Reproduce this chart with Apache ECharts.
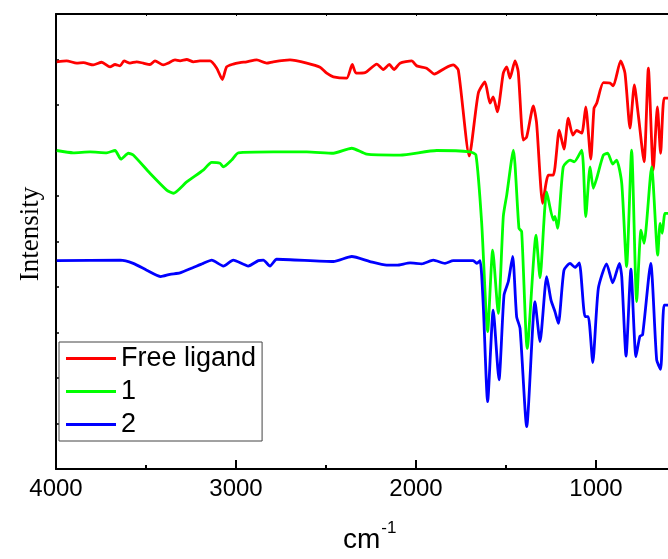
<!DOCTYPE html>
<html>
<head>
<meta charset="utf-8">
<script src="https://cdn.jsdelivr.net/npm/echarts@6/dist/echarts.min.js"></script>
<style>html,body{margin:0;padding:0;background:#fff;}#c{width:668px;height:559px;}</style>
</head>
<body>
<div id="c"></div>
<script>
// Wavenumbers (cm-1) and intensities (arbitrary units, 0-100)
var seriesNames = ['Free ligand', '1', '2'];
var xTickLabels = [4000, 3000, 2000, 1000];
var xMinorTicks = [3500, 2500, 1500];
var xTopTicks = [3500, 3000, 2500, 2000, 1500, 1000];

var ligandX = [3996,3941,3885,3848,3793,3746,3700,3672,3644,3622,3589,3552,3515,3478,3450,3404,3376,3339,3311,3274,3237,3200,3144,3107,3076,3052,3015,2978,2941,2885,2830,2793,2700,2607,2533,2496,2459,2385,2354,2333,2283,2218,2182,2148,2122,2089,2024,1996,1941,1898,1839,1793,1765,1704,1654,1617,1589,1571,1548,1515,1496,1478,1450,1432,1404,1385,1348,1330,1296,1265,1237,1204,1178,1154,1129,1107,1079,1057,1029,1011,996,959,922,904,863,839,811,787,765,733,709,682,659,641,622,600];
var ligandY = [89.5,89.7,89.2,89.3,88.8,89.4,88.4,88.9,88.6,89.7,89.2,89.5,89.2,88.9,89.7,88.8,89.2,89.9,89.7,90.0,89.5,89.7,89.7,88.1,85.6,88.4,89.0,89.3,89.5,89.9,89.2,89.5,89.9,89.2,88.3,87.0,86.2,85.9,88.9,87.0,87.1,89.0,87.8,88.9,87.8,89.2,89.7,88.6,88.1,86.8,88.1,88.8,87.7,68.8,82.6,85.1,80.4,81.8,78.5,87.0,88.4,85.9,89.7,87.3,72.3,73.0,79.8,76.0,58.4,64.6,64.6,74.5,70.3,77.1,73.4,74.4,73.8,79.6,68.1,79.3,80.4,84.9,84.8,84.2,89.7,87.0,74.9,84.4,77.8,67.5,88.1,65.7,79.6,69.4,81.5,81.5];

var complex1X = [3996,3904,3811,3719,3672,3639,3598,3571,3478,3385,3348,3274,3182,3135,3089,3070,3024,2987,2793,2607,2459,2357,2274,2089,1885,1700,1667,1635,1602,1574,1543,1515,1496,1459,1428,1413,1382,1333,1311,1274,1237,1228,1213,1182,1144,1121,1079,1057,1033,1015,996,959,935,907,885,857,830,802,774,750,733,691,657,644,632,617,600];
var complex1Y = [70.0,69.5,69.7,69.5,70.0,68.1,69.4,69.0,65.0,61.3,60.6,63.1,65.7,67.4,67.2,66.4,67.9,69.5,69.7,69.7,69.4,70.5,69.2,69.0,70.0,69.7,69.0,54.0,30.2,48.1,34.2,55.5,60.2,70.1,52.9,52.2,26.5,51.4,42.0,60.9,54.7,55.5,52.9,66.4,67.9,67.5,70.1,55.5,66.4,61.7,63.9,69.0,69.4,67.0,67.9,62.8,44.5,70.1,36.8,52.5,49.6,66.4,47.0,54.0,51.8,56.2,56.2];

var complex2X = [3996,3644,3571,3496,3418,3367,3311,3237,3182,3135,3070,3015,2932,2876,2848,2811,2774,2459,2357,2256,2163,2107,2033,1968,1904,1839,1793,1682,1663,1644,1626,1602,1571,1539,1511,1487,1463,1441,1422,1385,1339,1311,1274,1250,1228,1209,1178,1144,1117,1093,1061,1043,1018,987,941,907,870,857,833,806,778,756,741,696,663,641,622,600];
var complex2Y = [45.8,45.9,45.2,43.7,42.3,42.8,43.1,44.3,45.2,45.9,44.6,45.9,44.6,45.8,45.9,44.6,46.1,45.6,46.7,45.6,44.8,44.8,45.3,45.1,45.9,45.2,45.8,45.8,45.2,45.8,35.7,14.8,34.9,19.6,38.2,41.2,46.7,33.5,30.9,9.3,36.8,28.0,42.3,37.1,34.6,32.0,43.7,45.2,44.3,45.3,33.5,33.5,23.4,39.7,45.1,40.9,45.2,42.3,24.8,43.9,24.7,29.2,29.5,45.2,24.0,21.9,36.0,36.0];

var colors = ['#ff0000', '#00ff00', '#0000ff'];

function pairs(xs, ys) { return xs.map(function (x, i) { return [x, ys[i]]; }); }

var chart = echarts.init(document.getElementById('c'), null, { renderer: 'canvas' });
var sans = 'Liberation Sans, Arial, sans-serif';
var X_MIN = 600, X_MAX = 4000;
var option = {
  animation: false,
  backgroundColor: '#fff',
  grid: { left: 56, top: 14, right: 0, bottom: 90, containLabel: false },
  legend: {
    orient: 'vertical', left: 59, top: 342,
    padding: [0, 6, 0, 7], itemGap: 0, itemWidth: 50, itemHeight: 3,
    icon: 'rect',
    borderColor: '#444', borderWidth: 1, borderRadius: 0,
    backgroundColor: '#fff',
    textStyle: { fontSize: 27, lineHeight: 33, color: '#000', fontFamily: sans },
    data: seriesNames
  },
  xAxis: [
    {
      type: 'value', min: X_MIN, max: X_MAX, inverse: true, position: 'bottom',
      axisLine: { show: true, onZero: false, lineStyle: { color: '#000', width: 2 } },
      axisTick: { show: true, inside: true, length: 9, customValues: xTickLabels, lineStyle: { color: '#000', width: 2 } },
      axisLabel: { show: true, margin: 8, fontSize: 24, color: '#000', fontFamily: sans, customValues: xTickLabels,
        formatter: function (v) { return String(v); } },
      splitLine: { show: false }
    },
    {
      type: 'value', min: X_MIN, max: X_MAX, inverse: true, position: 'bottom',
      axisLine: { show: false },
      axisTick: { show: true, inside: true, length: 4, customValues: xMinorTicks, lineStyle: { color: '#000', width: 2 } },
      axisLabel: { show: false },
      splitLine: { show: false }
    },
    {
      type: 'value', min: X_MIN, max: X_MAX, inverse: true, position: 'top',
      axisLine: { show: true, onZero: false, lineStyle: { color: '#000', width: 2 } },
      axisTick: { show: true, inside: true, length: 2, customValues: xTopTicks, lineStyle: { color: '#000', width: 1 } },
      axisLabel: { show: false },
      splitLine: { show: false }
    }
  ],
  yAxis: {
    type: 'value', min: 0, max: 100, interval: 10,
    name: 'Intensity', nameLocation: 'middle', nameRotate: 90, nameGap: 12,
    nameTextStyle: { fontSize: 27, color: '#000', fontFamily: 'Liberation Serif, Times New Roman, serif', padding: [0, 0, 0, 15] },
    axisLine: { show: true, onZero: false, lineStyle: { color: '#000', width: 2 } },
    axisTick: { show: true, inside: true, length: 3, lineStyle: { color: '#000', width: 1.5 } },
    axisLabel: { show: false },
    splitLine: { show: false }
  },
  graphic: [
    {
      type: 'text', left: 343, top: 520,
      style: {
        text: '{a|cm}{b|-1}',
        rich: {
          a: { fontSize: 28, fontFamily: sans, fill: '#000', lineHeight: 34, verticalAlign: 'bottom' },
          b: { fontSize: 17, fontFamily: sans, fill: '#000', verticalAlign: 'top', padding: [0, 0, 0, 1] }
        }
      }
    }
  ],
  series: [
    { name: seriesNames[0], type: 'line', xAxisIndex: 0, data: pairs(ligandX, ligandY), showSymbol: false, symbol: 'none', smooth: 0.2, lineStyle: { color: colors[0], width: 2.8 }, itemStyle: { color: colors[0] } },
    { name: seriesNames[1], type: 'line', xAxisIndex: 0, data: pairs(complex1X, complex1Y), showSymbol: false, symbol: 'none', smooth: 0.2, lineStyle: { color: colors[1], width: 2.8 }, itemStyle: { color: colors[1] } },
    { name: seriesNames[2], type: 'line', xAxisIndex: 0, data: pairs(complex2X, complex2Y), showSymbol: false, symbol: 'none', smooth: 0.2, lineStyle: { color: colors[2], width: 2.8 }, itemStyle: { color: colors[2] } }
  ]
};
chart.setOption(option);
</script>
</body>
</html>
